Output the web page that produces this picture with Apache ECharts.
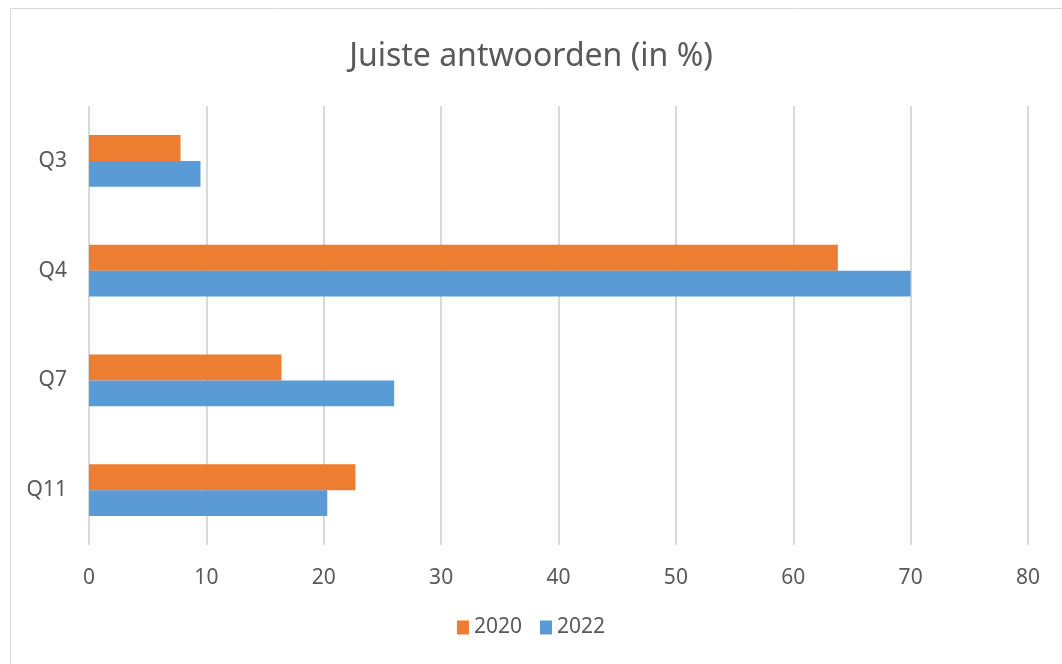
<!DOCTYPE html>
<html><head><meta charset="utf-8">
<script src="https://cdn.jsdelivr.net/npm/echarts@6/dist/echarts.min.js"></script>
<style>html,body{margin:0;padding:0;background:#fff}#c{width:1062px;height:664px}</style>
</head><body><div id="c"></div>
<script>
const categories = ['Q3', 'Q4', 'Q7', 'Q11'];
const seriesNames = ['2020', '2022'];
const values2020 = [7.8, 63.8, 16.4, 22.7];
const values2022 = [9.5, 70.0, 26.0, 20.3];
const xTicks = { min: 0, max: 80, interval: 10 };

const font = 'Noto Sans';
const chart = echarts.init(document.getElementById('c'));
chart.setOption({
  animation: false,
  textStyle: { fontFamily: font },
  graphic: [{ type: 'rect', shape: { x: 10.5, y: 8.5, width: 1060, height: 660 }, style: { fill: 'none', stroke: '#d9d9d9', lineWidth: 1 } }],
  title: { text: 'Juiste antwoorden (in %)', left: 'center', top: 36, textStyle: { fontFamily: font, fontSize: 32, fontWeight: 'normal', color: '#595959' } },
  legend: { data: seriesNames, bottom: 21, left: 'center', itemWidth: 12, itemHeight: 14, itemGap: 18, icon: 'rect', textStyle: { fontFamily: font, fontSize: 21, color: '#595959' } },
  grid: { left: 89, right: 34, top: 106, bottom: 119, containLabel: false },
  xAxis: { type: 'value', min: xTicks.min, max: xTicks.max, interval: xTicks.interval,
    axisLine: { show: false }, axisTick: { show: false },
    axisLabel: { margin: 23, fontFamily: font, fontSize: 21, color: '#595959' },
    splitLine: { lineStyle: { color: '#d9d9d9', width: 2 } } },
  yAxis: { type: 'category', data: categories, inverse: true,
    axisLine: { show: false }, axisTick: { show: false },
    axisLabel: { margin: 22, fontFamily: font, fontSize: 21, color: '#595959' } },
  series: [
    { name: '2020', type: 'bar', data: values2020, itemStyle: { color: '#ED7D31' }, barGap: '0%', barCategoryGap: '53%' },
    { name: '2022', type: 'bar', data: values2022, itemStyle: { color: '#5B9BD5' }, barGap: '0%', barCategoryGap: '53%' }
  ]
});
</script></body></html>
